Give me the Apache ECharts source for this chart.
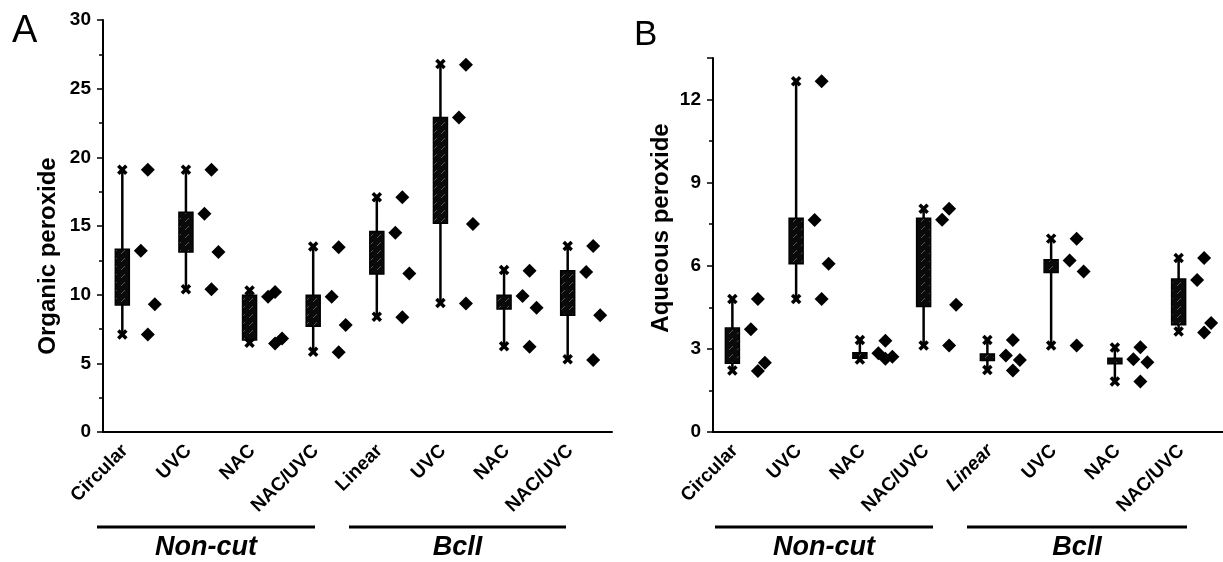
<!DOCTYPE html>
<html>
<head>
<meta charset="utf-8">
<script src="https://cdn.jsdelivr.net/npm/echarts@6/dist/echarts.min.js"></script>
<style>
  html, body { margin: 0; padding: 0; background: #fff; }
  #main { width: 1223px; height: 562px; }
</style>
</head>
<body>
<div id="main"></div>
<script>
var categories = ['Circular', 'UVC', 'NAC', 'NAC/UVC', 'Linear', 'UVC', 'NAC', 'NAC/UVC'];

// [min, q1, q3, max] for every treatment
var organicBoxes = [
    [7.1, 9.25, 13.3, 19.1],
    [10.4, 13.1, 16.0, 19.1],
    [6.5, 6.7, 9.95, 10.3],
    [5.85, 7.7, 9.95, 13.5],
    [8.4, 11.5, 14.6, 17.1],
    [9.4, 15.2, 22.9, 26.8],
    [6.25, 8.95, 9.95, 11.8],
    [5.3, 8.5, 11.75, 13.55]
];
var organicPoints = [
    [19.1, 13.2, 9.3, 7.1],
    [19.1, 15.9, 13.1, 10.4],
    [10.2, 9.85, 6.8, 6.45],
    [13.45, 9.85, 7.8, 5.8],
    [17.1, 14.5, 11.55, 8.35],
    [26.75, 22.9, 15.15, 9.35],
    [11.75, 9.9, 9.05, 6.2],
    [13.55, 11.65, 8.5, 5.25]
];
var aqueousBoxes = [
    [2.22, 2.48, 3.75, 4.8],
    [4.8, 6.07, 7.72, 12.66],
    [2.62, 2.66, 2.86, 3.32],
    [3.12, 4.53, 7.72, 8.06],
    [2.24, 2.58, 2.82, 3.32],
    [3.12, 5.76, 6.22, 6.98],
    [1.82, 2.46, 2.66, 3.05],
    [3.63, 3.87, 5.52, 6.28]
];
var aqueousPoints = [
    [4.8, 3.71, 2.5, 2.2],
    [12.66, 7.65, 6.07, 4.8],
    [3.29, 2.84, 2.72, 2.64],
    [8.06, 7.66, 4.59, 3.12],
    [3.32, 2.76, 2.6, 2.22],
    [6.98, 6.19, 5.79, 3.12],
    [3.06, 2.63, 2.52, 1.82],
    [6.28, 5.49, 3.93, 3.59]
];

var font = 'Liberation Sans, Arial, Helvetica, sans-serif';
var jitter = [13, 6, 20, 13];

// near-black box fill with sparse light hatching
var patCanvas = document.createElement('canvas');
patCanvas.width = 8;
patCanvas.height = 8;
var pg = patCanvas.getContext('2d');
pg.fillStyle = '#0a0a0a';
pg.fillRect(0, 0, 8, 8);
pg.strokeStyle = '#555';
pg.lineWidth = 1;
pg.beginPath();
pg.moveTo(1, 6);
pg.lineTo(5, 2);
pg.stroke();
var boxFill = { image: patCanvas, repeat: 'repeat' };

function cross(x, y) {
    var c = 4;
    return {
        type: 'group',
        children: [
            { type: 'line', shape: { x1: x - c, y1: y - c, x2: x + c, y2: y + c }, style: { stroke: '#000', lineWidth: 3.5 } },
            { type: 'line', shape: { x1: x - c, y1: y + c, x2: x + c, y2: y - c }, style: { stroke: '#000', lineWidth: 3.5 } }
        ]
    };
}

function renderBox(params, api) {
    var idx = api.value(0);
    var lo = api.coord([idx, api.value(1)]);
    var q1 = api.coord([idx, api.value(2)]);
    var q3 = api.coord([idx, api.value(3)]);
    var hi = api.coord([idx, api.value(4)]);
    var x = lo[0] - 12.5;
    var hw = 7;
    return {
        type: 'group',
        children: [
            { type: 'line', shape: { x1: x, y1: hi[1], x2: x, y2: lo[1] }, style: { stroke: '#000', lineWidth: 2.5 } },
            { type: 'rect', shape: { x: x - hw, y: q3[1], width: 2 * hw, height: Math.max(q1[1] - q3[1], 5) }, style: { fill: boxFill, stroke: '#000', lineWidth: 1.5 } },
            cross(x, hi[1]),
            cross(x, lo[1])
        ]
    };
}

function boxData(boxes) {
    return boxes.map(function (b, i) { return [i, b[0], b[1], b[2], b[3]]; });
}

function pointData(points) {
    var out = [];
    points.forEach(function (grp, i) {
        grp.forEach(function (v, k) {
            out.push({ value: [i, v], symbolOffset: [jitter[k % jitter.length], 0] });
        });
    });
    return out;
}

function xAxis(gridIndex, italicLinear) {
    return {
        type: 'category',
        gridIndex: gridIndex,
        data: categories.map(function (c, i) {
            if (italicLinear && i === 4) return { value: c, textStyle: { fontStyle: 'italic' } };
            return c;
        }),
        boundaryGap: true,
        axisLine: { lineStyle: { color: '#000', width: 2 } },
        axisTick: { alignWithLabel: true, length: 6, lineStyle: { color: '#000', width: 1.5 } },
        axisLabel: { interval: 0, rotate: 45, margin: 6, padding: [0, 14, 0, 0], color: '#000', fontWeight: 'bold', fontSize: 19, fontFamily: font }
    };
}

function yAxis(gridIndex, max, interval) {
    return {
        type: 'value',
        gridIndex: gridIndex,
        min: 0,
        max: max,
        interval: interval,
        splitLine: { show: false },
        axisLine: { show: true, lineStyle: { color: '#000', width: 2 } },
        axisTick: { show: true, length: 6, lineStyle: { color: '#000', width: 1.5 } },
        minorTick: { show: true, splitNumber: 2, length: 4, lineStyle: { color: '#000', width: 1.5 } },
        axisLabel: { color: '#000', fontWeight: 'bold', fontSize: 19, fontFamily: font, margin: 12, showMaxLabel: max % interval === 0 }
    };
}

function groupLabel(x1, x2, text) {
    return [
        { type: 'line', shape: { x1: x1, y1: 527, x2: x2, y2: 527 }, style: { stroke: '#000', lineWidth: 3 } },
        { type: 'text', x: (x1 + x2) / 2, y: 548, style: { text: text, textAlign: 'center', textVerticalAlign: 'middle', font: 'italic bold 27px ' + font, fill: '#000' } }
    ];
}

var myChart = echarts.init(document.getElementById('main'));

var option = {
    animation: false,
    backgroundColor: '#fff',
    grid: [
        { left: 103, right: 611, top: 20, bottom: 130 },
        { left: 713, right: 0, top: 58, bottom: 130 }
    ],
    xAxis: [xAxis(0, false), xAxis(1, true)],
    yAxis: [yAxis(0, 30, 5), yAxis(1, 13.5, 3)],
    series: [
        { type: 'custom', xAxisIndex: 0, yAxisIndex: 0, renderItem: renderBox, encode: { x: 0, y: [1, 2, 3, 4] }, data: boxData(organicBoxes), z: 2 },
        { type: 'scatter', xAxisIndex: 0, yAxisIndex: 0, symbol: 'diamond', symbolSize: 14, itemStyle: { color: '#000', opacity: 1 }, data: pointData(organicPoints), z: 3 },
        { type: 'custom', xAxisIndex: 1, yAxisIndex: 1, renderItem: renderBox, encode: { x: 0, y: [1, 2, 3, 4] }, data: boxData(aqueousBoxes), z: 2 },
        { type: 'scatter', xAxisIndex: 1, yAxisIndex: 1, symbol: 'diamond', symbolSize: 14, itemStyle: { color: '#000', opacity: 1 }, data: pointData(aqueousPoints), z: 3 }
    ],
    graphic: [
        { type: 'text', x: 12, y: 32, style: { text: 'A', textVerticalAlign: 'middle', font: '38px ' + font, fill: '#000' } },
        { type: 'text', x: 634, y: 35, style: { text: 'B', textVerticalAlign: 'middle', font: '35px ' + font, fill: '#000' } },
        { type: 'text', x: 48, y: 256, rotation: Math.PI / 2, style: { text: 'Organic peroxide', textAlign: 'center', textVerticalAlign: 'middle', font: 'bold 24px ' + font, fill: '#000' } },
        { type: 'text', x: 661, y: 228, rotation: Math.PI / 2, style: { text: 'Aqueous peroxide', textAlign: 'center', textVerticalAlign: 'middle', font: 'bold 24px ' + font, fill: '#000' } }
    ].concat(groupLabel(97, 315, 'Non-cut'), groupLabel(349, 566, 'BclI'),
             groupLabel(715, 933, 'Non-cut'), groupLabel(967, 1187, 'BclI'))
};
myChart.setOption(option);
</script>
</body>
</html>
